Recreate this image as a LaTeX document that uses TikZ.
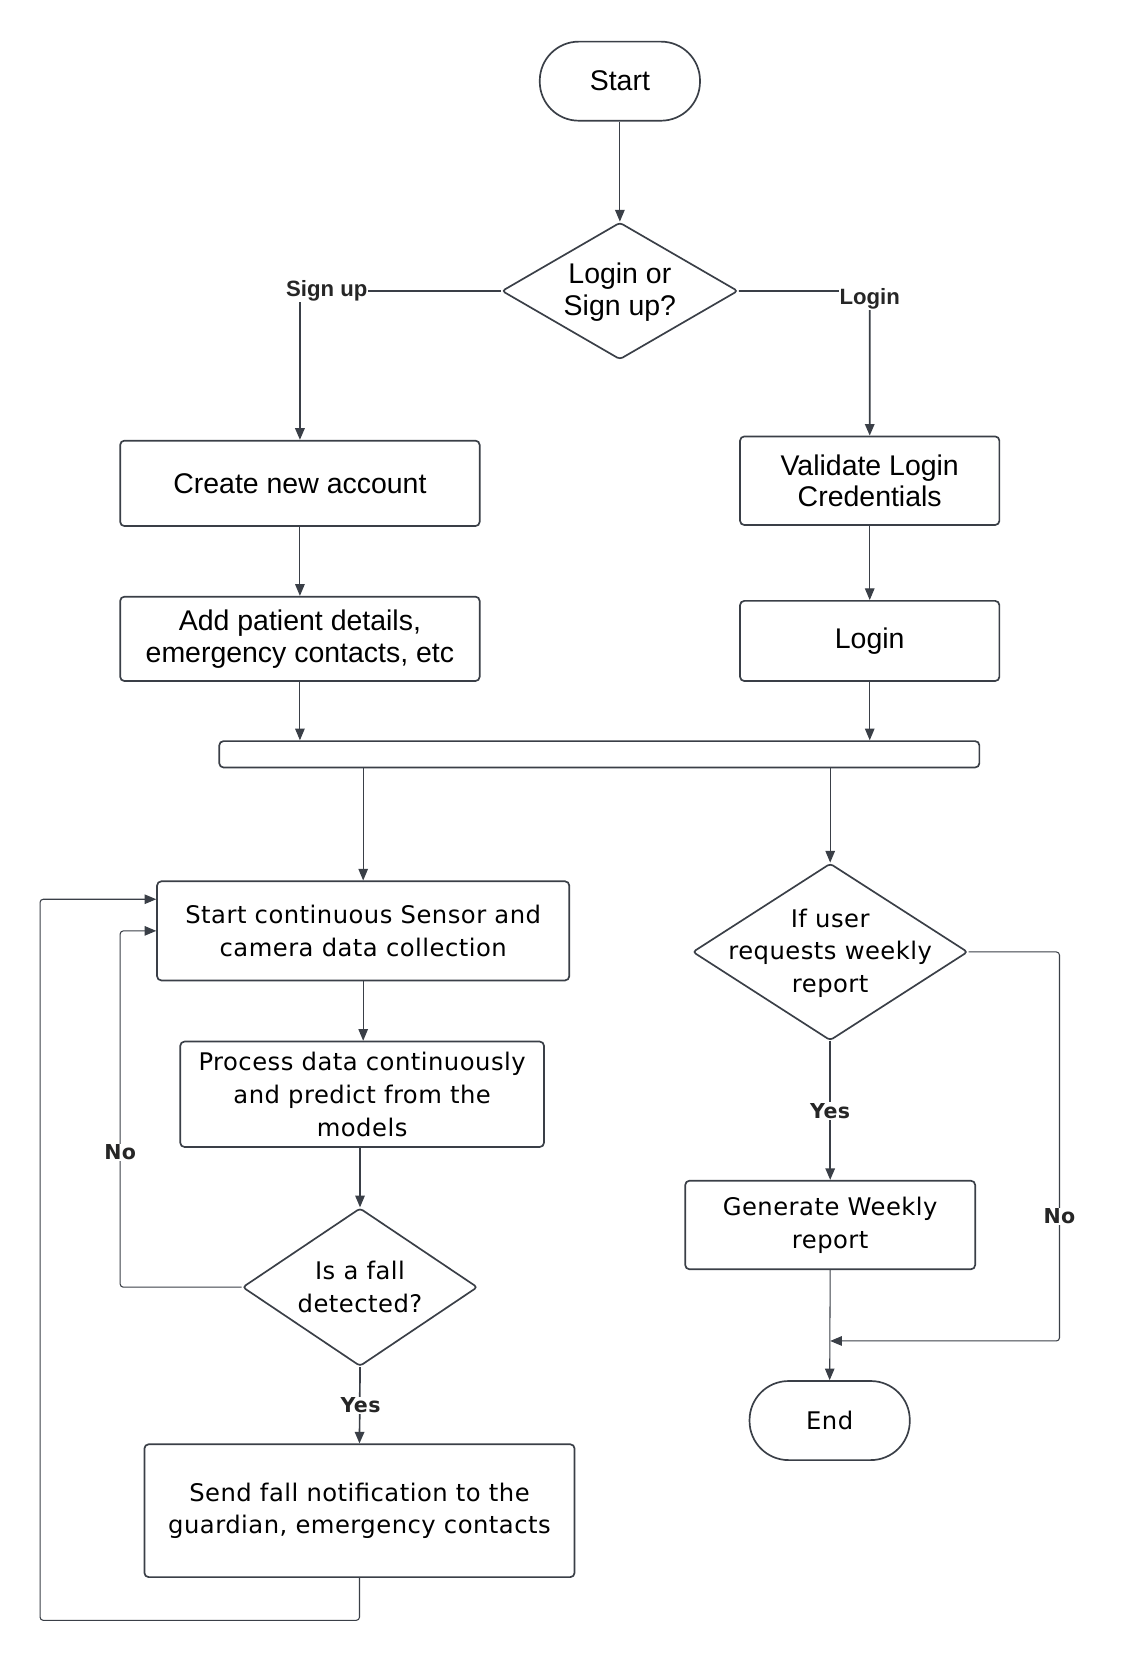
\documentclass[tikz,border=0pt]{standalone}
\usepackage{fontspec}
\setmainfont{Liberation Sans}
\newfontfamily\widefont[LetterSpace=2]{DejaVu Sans}
\newfontfamily\widefontb[LetterSpace=2]{DejaVu Sans Bold}
\usetikzlibrary{arrows.meta,shapes.geometric}
\definecolor{linec}{RGB}{58,63,71}
\tikzset{
  topfont/.style={font=\fontsize{27}{30}\selectfont},
  botfont/.style={font=\widefont\fontsize{23}{31}\selectfont},
  box/.style={draw=linec,line width=1.6pt,rounded corners=4pt,fill=white,align=center,inner sep=0pt},
  term/.style={draw=linec,line width=1.6pt,rounded corners=37pt,fill=white,align=center,inner sep=0pt,minimum width=152pt,minimum height=75pt},
  dia/.style={draw=linec,line width=1.6pt,diamond,rounded corners=3pt,inner sep=0pt,fill=white},
  conn/.style={draw=linec,line width=1pt,rounded corners=3pt,-{Triangle[length=11pt,width=9pt]}},
  thick conn/.style={conn,line width=1.6pt},
  lbl/.style={fill=white,inner sep=1pt,text=black!85},
  toplbl/.style={lbl,font=\bfseries\fontsize{21}{24}\selectfont},
  botlbl/.style={lbl,font=\widefontb\fontsize{19.5}{22}\selectfont},
}
\begin{document}
\begin{tikzpicture}[x=1pt,y=-1pt]
\useasboundingbox (0,0) rectangle (1068,1568);
% top part
\node[term,topfont] (start) at (588,77) {Start};
\node[dia,minimum width=224pt,minimum height=130pt] (d1) at (588,276) {};
\node[topfont,align=center] (d1t) at (588,277) {Login or\\Sign up?};
\node[box,topfont,minimum width=341pt,minimum height=81pt] (create) at (284.5,458.5) {Create new account};
\node[box,topfont,minimum width=341pt,minimum height=80pt] (add) at (284.5,606) {Add patient details,\\emergency contacts, etc};
\node[box,topfont,minimum width=246pt,minimum height=84pt] (validate) at (825,456) {Validate Login\\Credentials};
\node[box,topfont,minimum width=246pt,minimum height=76pt] (loginbox) at (825,608) {Login};
\node[box,minimum width=721pt,minimum height=25pt] (bar) at (568.5,715.5) {};
% bottom part
\node[box,botfont,minimum width=391pt,minimum height=94pt] (collect) at (344.5,883) {Start continuous Sensor and\\camera data collection};
\node[box,botfont,minimum width=345pt,minimum height=100pt] (process) at (343.5,1038) {Process data continuously\\and predict from the\\models};
\node[dia,minimum width=223pt,minimum height=150pt] (d3) at (341.5,1221) {};
\node[botfont,align=center] (d3t) at (341.5,1221) {Is a fall\\detected?};
\node[box,botfont,minimum width=408pt,minimum height=126pt] (send) at (341,1433) {Send fall notification to the\\guardian, emergency contacts};
\node[dia,minimum width=261pt,minimum height=168pt] (d2) at (787.5,903) {};
\node[botfont,align=center] (d2t) at (787.5,904) {If user\\requests weekly\\report};
\node[box,botfont,minimum width=275pt,minimum height=84pt] (gen) at (787.5,1162) {Generate Weekly\\report};
\node[term,botfont] (endn) at (787,1347.5) {End};
% helper coordinates
\coordinate (nolx) at (114,0);
\coordinate (lb) at (38,1537);
\coordinate (nr) at (1005,1272);
\coordinate (merge) at (787.5,1272);
% connectors
\draw[conn] (start) -- (d1);
\draw[thick conn] (d1.west) -| (create.north);
\draw[thick conn] (d1.east) -| (validate.north);
\draw[conn] (create) -- (add);
\draw[conn] (validate) -- (loginbox);
\draw[conn] (add.south) -- (add.south |- bar.north);
\draw[conn] (loginbox.south) -- (loginbox.south |- bar.north);
\draw[conn] (bar.south -| collect.north) -- (collect.north);
\draw[conn] (bar.south -| d2.north) -- (d2.north);
\draw[conn] (collect.south) -- (collect.south |- process.north);
\draw[conn] (process.south -| d3.north) -- (d3.north);
\draw[conn] (d3.west) -| (nolx |- collect.west) -- (collect.west);
\draw[thick conn] (d3.south) -- (send.north);
\draw[conn] (send.south) |- (lb) |- ([yshift=30pt]collect.west);
\draw[thick conn] (d2.south) -- (gen.north);
\draw[conn] (d2.east) -| (nr) -- (merge);
\draw[conn] (gen.south) -- (endn.north);
% labels
\node[toplbl] (lsign) at (310,276) {Sign up};
\node[toplbl] (llogin) at (825,283) {Login};
\node[botlbl] (lno1) at (114,1093) {No};
\node[botlbl] (lyes1) at (342,1333) {Yes};
\node[botlbl] (lyes2) at (787.5,1054) {Yes};
\node[botlbl] (lno2) at (1005,1154) {No};
\end{tikzpicture}
\end{document}
